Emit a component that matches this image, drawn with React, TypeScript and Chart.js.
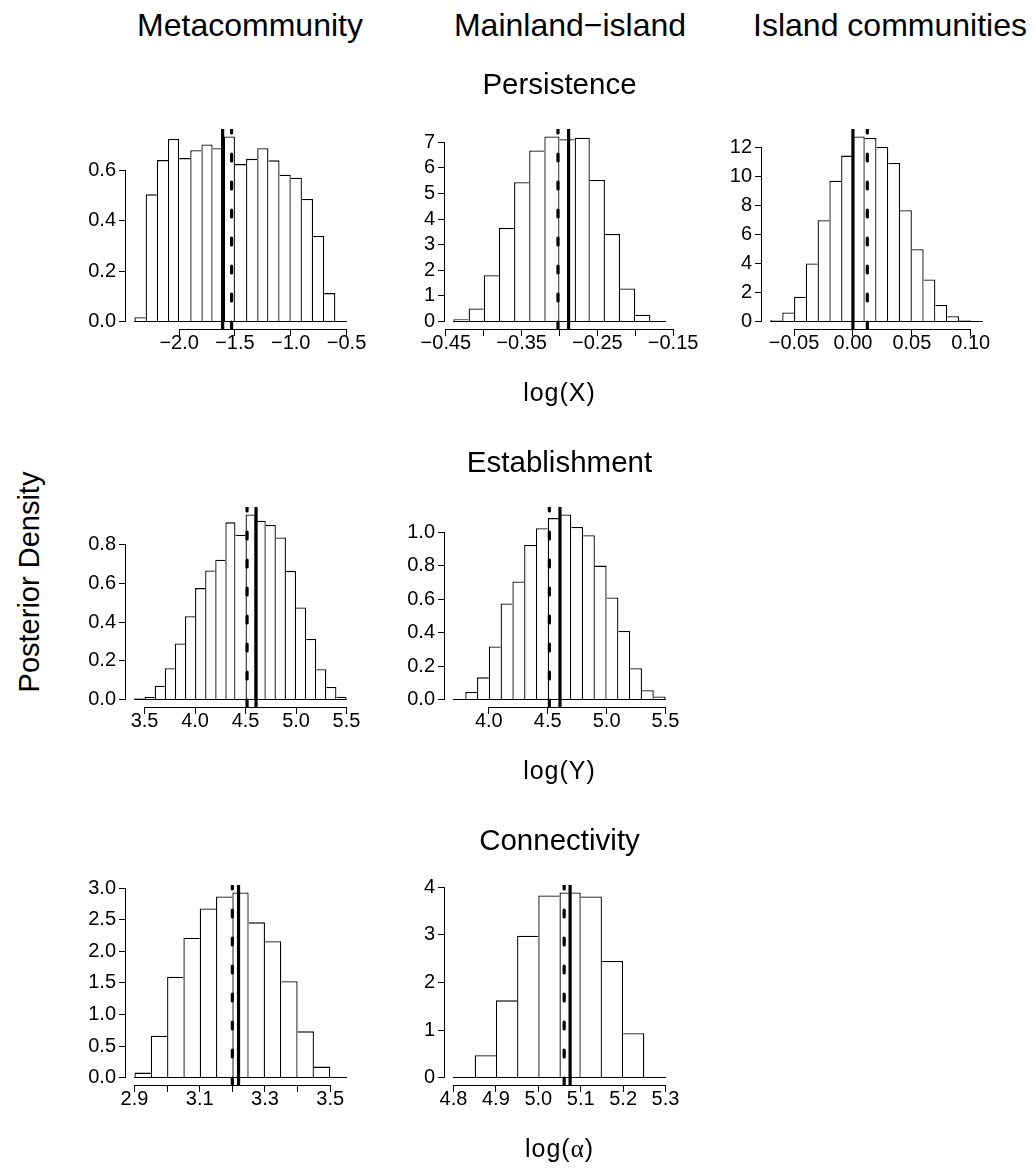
import React, { useEffect, useRef } from "react";
import { Chart, registerables } from "chart.js";

Chart.register(...registerables);

const FONT = "'Liberation Sans', Arial, Helvetica, sans-serif";

// ---------- Persistence ----------
const metaPersBreaks = [-2.4, -2.3, -2.2, -2.1, -2.0, -1.9, -1.8, -1.7, -1.6, -1.5, -1.4, -1.3, -1.2, -1.1, -1.0, -0.9, -0.8, -0.7, -0.6, -0.5];
const metaPersDensity = [0.017, 0.505, 0.641, 0.725, 0.649, 0.68, 0.703, 0.688, 0.735, 0.625, 0.646, 0.688, 0.64, 0.583, 0.571, 0.487, 0.34, 0.113, 0];
const metaPersSolid = -1.61;
const metaPersDashed = -1.53;
const metaPersXTicks = [-2.0, -1.5, -1.0, -0.5];
const metaPersXLabels = ["−2.0", "−1.5", "−1.0", "−0.5"];
const metaPersYTicks = [0, 0.2, 0.4, 0.6];
const metaPersYLabels = ["0.0", "0.2", "0.4", "0.6"];

const mainPersBreaks = [-0.44, -0.42, -0.4, -0.38, -0.36, -0.34, -0.32, -0.3, -0.28, -0.26, -0.24, -0.22, -0.2, -0.18, -0.16];
const mainPersDensity = [0.09, 0.51, 1.81, 3.66, 5.44, 6.68, 7.23, 7.12, 7.18, 5.53, 3.42, 1.29, 0.27, 0.02];
const mainPersSolid = -0.288;
const mainPersDashed = -0.302;
const mainPersXTicks = [-0.45, -0.4, -0.35, -0.3, -0.25, -0.2, -0.15];
const mainPersXLabels = ["−0.45", "", "−0.35", "", "−0.25", "", "−0.15"];
const mainPersYTicks = [0, 1, 2, 3, 4, 5, 6, 7];
const mainPersYLabels = ["0", "1", "2", "3", "4", "5", "6", "7"];

const islPersBreaks = [-0.07, -0.06, -0.05, -0.04, -0.03, -0.02, -0.01, 0.0, 0.01, 0.02, 0.03, 0.04, 0.05, 0.06, 0.07, 0.08, 0.09, 0.1, 0.11];
const islPersDensity = [0.11, 0.62, 1.71, 4.0, 6.97, 9.69, 11.41, 12.73, 12.62, 12.0, 10.9, 7.66, 4.98, 2.9, 1.14, 0.37, 0.09, 0];
const islPersSolid = 0.0;
const islPersDashed = 0.0122;
const islPersXTicks = [-0.05, 0.0, 0.05, 0.1];
const islPersXLabels = ["−0.05", "0.00", "0.05", "0.10"];
const islPersYTicks = [0, 2, 4, 6, 8, 10, 12];
const islPersYLabels = ["0", "2", "4", "6", "8", "10", "12"];

// ---------- Establishment ----------
const metaEstBreaks = [3.4, 3.5, 3.6, 3.7, 3.8, 3.9, 4.0, 4.1, 4.2, 4.3, 4.4, 4.5, 4.6, 4.7, 4.8, 4.9, 5.0, 5.1, 5.2, 5.3, 5.4, 5.5];
const metaEstDensity = [0.007, 0.014, 0.072, 0.162, 0.289, 0.43, 0.575, 0.666, 0.721, 0.914, 0.85, 0.955, 0.922, 0.901, 0.836, 0.664, 0.475, 0.313, 0.157, 0.065, 0.015];
const metaEstSolid = 4.604;
const metaEstDashed = 4.515;
const metaEstXTicks = [3.5, 4.0, 4.5, 5.0, 5.5];
const metaEstXLabels = ["3.5", "4.0", "4.5", "5.0", "5.5"];
const metaEstYTicks = [0, 0.2, 0.4, 0.6, 0.8];
const metaEstYLabels = ["0.0", "0.2", "0.4", "0.6", "0.8"];

const mainEstBreaks = [3.7, 3.8, 3.9, 4.0, 4.1, 4.2, 4.3, 4.4, 4.5, 4.6, 4.7, 4.8, 4.9, 5.0, 5.1, 5.2, 5.3, 5.4, 5.5];
const mainEstDensity = [0.004, 0.046, 0.133, 0.318, 0.575, 0.706, 0.924, 1.024, 1.085, 1.107, 1.032, 0.982, 0.801, 0.61, 0.41, 0.187, 0.056, 0.018];
const mainEstSolid = 4.604;
const mainEstDashed = 4.514;
const mainEstXTicks = [4.0, 4.5, 5.0, 5.5];
const mainEstXLabels = ["4.0", "4.5", "5.0", "5.5"];
const mainEstYTicks = [0, 0.2, 0.4, 0.6, 0.8, 1.0];
const mainEstYLabels = ["0.0", "0.2", "0.4", "0.6", "0.8", "1.0"];

// ---------- Connectivity ----------
const metaConBreaks = [2.9, 2.95, 3.0, 3.05, 3.1, 3.15, 3.2, 3.25, 3.3, 3.35, 3.4, 3.45, 3.5, 3.55];
const metaConDensity = [0.079, 0.663, 1.595, 2.216, 2.679, 2.868, 2.932, 2.458, 2.158, 1.526, 0.732, 0.174, 0];
const metaConSolid = 3.219;
const metaConDashed = 3.2;
const metaConXTicks = [2.9, 3.0, 3.1, 3.2, 3.3, 3.4, 3.5];
const metaConXLabels = ["2.9", "", "3.1", "", "3.3", "", "3.5"];
const metaConYTicks = [0, 0.5, 1.0, 1.5, 2.0, 2.5, 3.0];
const metaConYLabels = ["0.0", "0.5", "1.0", "1.5", "2.0", "2.5", "3.0"];

const mainConBreaks = [4.8, 4.85, 4.9, 4.95, 5.0, 5.05, 5.1, 5.15, 5.2, 5.25, 5.3];
const mainConDensity = [0.005, 0.469, 1.625, 2.984, 3.832, 3.895, 3.811, 2.452, 0.932, 0.02];
const mainConSolid = 5.075;
const mainConDashed = 5.061;
const mainConXTicks = [4.8, 4.9, 5.0, 5.1, 5.2, 5.3];
const mainConXLabels = ["4.8", "4.9", "5.0", "5.1", "5.2", "5.3"];
const mainConYTicks = [0, 1, 2, 3, 4];
const mainConYLabels = ["0", "1", "2", "3", "4"];

// ---------- text ----------
const columnTitles = ["Metacommunity", "Mainland−island", "Island communities"];
const rowTitles = ["Persistence", "Establishment", "Connectivity"];
const xAxisSymbols = ["X", "Y", "α"];
const yAxisTitle = "Posterior Density";

type Panel = {
  breaks: number[];
  density: number[];
  solid: number;
  dashed: number;
  xTicks: number[];
  xLabels: string[];
  yTicks: number[];
  yLabels: string[];
  col: number;
  row: number;
};

const panels: Panel[] = [
  { breaks: metaPersBreaks, density: metaPersDensity, solid: metaPersSolid, dashed: metaPersDashed, xTicks: metaPersXTicks, xLabels: metaPersXLabels, yTicks: metaPersYTicks, yLabels: metaPersYLabels, col: 0, row: 0 },
  { breaks: mainPersBreaks, density: mainPersDensity, solid: mainPersSolid, dashed: mainPersDashed, xTicks: mainPersXTicks, xLabels: mainPersXLabels, yTicks: mainPersYTicks, yLabels: mainPersYLabels, col: 1, row: 0 },
  { breaks: islPersBreaks, density: islPersDensity, solid: islPersSolid, dashed: islPersDashed, xTicks: islPersXTicks, xLabels: islPersXLabels, yTicks: islPersYTicks, yLabels: islPersYLabels, col: 2, row: 0 },
  { breaks: metaEstBreaks, density: metaEstDensity, solid: metaEstSolid, dashed: metaEstDashed, xTicks: metaEstXTicks, xLabels: metaEstXLabels, yTicks: metaEstYTicks, yLabels: metaEstYLabels, col: 0, row: 1 },
  { breaks: mainEstBreaks, density: mainEstDensity, solid: mainEstSolid, dashed: mainEstDashed, xTicks: mainEstXTicks, xLabels: mainEstXLabels, yTicks: mainEstYTicks, yLabels: mainEstYLabels, col: 1, row: 1 },
  { breaks: metaConBreaks, density: metaConDensity, solid: metaConSolid, dashed: metaConDashed, xTicks: metaConXTicks, xLabels: metaConXLabels, yTicks: metaConYTicks, yLabels: metaConYLabels, col: 0, row: 2 },
  { breaks: mainConBreaks, density: mainConDensity, solid: mainConSolid, dashed: mainConDashed, xTicks: mainConXTicks, xLabels: mainConXLabels, yTicks: mainConYTicks, yLabels: mainConYLabels, col: 1, row: 2 },
];

// layout (plot-region geometry)
const COL_LEFT = [126, 445, 762];
const ROW_TOP = [129, 507, 885];
const PLOT_W = 229;
const PLOT_H = 200;
const PAD_L = 70;
const PAD_R = 40;
const PAD_T = 20;
const PAD_B = 45;
const TICK_FONT = 20;

function Histogram({ p }: { p: Panel }) {
  const ref = useRef<HTMLCanvasElement>(null);
  useEffect(() => {
    const canvas = ref.current!;
    const n = p.density.length;
    const points = p.density.map((d, i) => ({ x: (p.breaks[i] + p.breaks[i + 1]) / 2, y: d }));
    const b0 = p.breaks[0];
    const bN = p.breaks[p.breaks.length - 1];
    const xr = bN - b0;
    const ymax = Math.max(...p.density);

    const rStyle = {
      id: "rStyle",
      afterDraw(chart: any) {
        const ctx = chart.ctx as CanvasRenderingContext2D;
        const xs = chart.scales.x;
        const ys = chart.scales.y;
        const ca = chart.chartArea;
        const al = (v: number) => Math.round(v - 0.5) + 0.5;
        ctx.save();
        ctx.strokeStyle = "#000";
        ctx.lineWidth = 1;
        ctx.lineCap = "butt";
        // histogram baseline (bottom edges of all bins, including empty ones)
        const y0 = al(ys.getPixelForValue(0));
        ctx.beginPath();
        ctx.moveTo(xs.getPixelForValue(b0) - 0.5, y0);
        ctx.lineTo(xs.getPixelForValue(bN) + 0.5, y0);
        ctx.stroke();
        // x axis line between first and last tick
        const yb = ca.bottom + 0.5;
        ctx.beginPath();
        ctx.moveTo(al(xs.getPixelForValue(p.xTicks[0])) - 0.5, yb);
        ctx.lineTo(al(xs.getPixelForValue(p.xTicks[p.xTicks.length - 1])) + 0.5, yb);
        ctx.stroke();
        // y axis line between first and last tick
        const xl = ca.left - 0.5;
        ctx.beginPath();
        ctx.moveTo(xl, al(ys.getPixelForValue(p.yTicks[0])) + 0.5);
        ctx.lineTo(xl, al(ys.getPixelForValue(p.yTicks[p.yTicks.length - 1])) - 0.5);
        ctx.stroke();
        // reference lines, clipped to plot region
        ctx.beginPath();
        ctx.rect(ca.left, ca.top, ca.right - ca.left, ca.bottom - ca.top);
        ctx.clip();
        ctx.lineWidth = 3.2;
        ctx.lineCap = "round";
        const xsol = xs.getPixelForValue(p.solid);
        ctx.setLineDash([]);
        ctx.beginPath();
        ctx.moveTo(xsol, ca.bottom + 2);
        ctx.lineTo(xsol, ca.top - 2);
        ctx.stroke();
        const xd = xs.getPixelForValue(p.dashed);
        ctx.setLineDash([7, 21]);
        ctx.beginPath();
        ctx.moveTo(xd, ca.bottom);
        ctx.lineTo(xd, ca.top - 30);
        ctx.stroke();
        ctx.restore();
      },
    };

    const chart = new Chart(canvas, {
      type: "bar",
      data: {
        datasets: [
          {
            data: points as any,
            backgroundColor: "#ffffff",
            borderColor: "#000000",
            borderSkipped: false,
            inflateAmount: 0,
            barPercentage: 1,
            categoryPercentage: 1,
            borderWidth: (c: any) => {
              const i = c.dataIndex;
              const h = p.density[i];
              const w = 1.3;
              const left = i === 0 || p.density[i - 1] < h ? w : 0;
              const right = i === n - 1 || p.density[i + 1] <= h ? w : 0;
              return { top: w, bottom: 0, left, right };
            },
          } as any,
        ],
      },
      options: {
        animation: false,
        responsive: false,
        maintainAspectRatio: false,
        devicePixelRatio: 1,
        events: [],
        layout: { padding: { top: PAD_T, right: PAD_R, left: 0, bottom: 0 } },
        plugins: {
          legend: { display: false },
          tooltip: { enabled: false },
          title: { display: false },
        },
        scales: {
          x: {
            type: "linear",
            min: b0 - 0.04 * xr,
            max: bN + 0.04 * xr,
            offset: false,
            afterBuildTicks: (s: any) => {
              s.ticks = p.xTicks.map((v) => ({ value: v }));
            },
            afterFit: (s: any) => {
              s.height = PAD_B;
            },
            grid: { display: true, drawOnChartArea: false, drawTicks: true, tickLength: 7, color: "#000", lineWidth: 1, offset: false },
            border: { display: false },
            ticks: {
              autoSkip: false,
              maxRotation: 0,
              minRotation: 0,
              padding: -3,
              color: "#000",
              font: { family: FONT, size: TICK_FONT, lineHeight: 1 },
              callback: (_v: any, i: number) => p.xLabels[i],
            },
          },
          y: {
            type: "linear",
            min: -0.04 * ymax,
            max: 1.04 * ymax,
            afterBuildTicks: (s: any) => {
              s.ticks = p.yTicks.map((v) => ({ value: v }));
            },
            afterFit: (s: any) => {
              s.width = PAD_L;
            },
            grid: { display: true, drawOnChartArea: false, drawTicks: true, tickLength: 7, color: "#000", lineWidth: 1 },
            border: { display: false },
            ticks: {
              autoSkip: false,
              padding: 3,
              color: "#000",
              font: { family: FONT, size: TICK_FONT, lineHeight: 1 },
              callback: (_v: any, i: number) => p.yLabels[i],
            },
          },
        } as any,
      },
      plugins: [rStyle],
    });
    return () => chart.destroy();
  }, [p]);

  const W = PAD_L + PLOT_W + PAD_R;
  const H = PAD_T + PLOT_H + PAD_B;
  return (
    <canvas
      ref={ref}
      width={W}
      height={H}
      style={{
        position: "absolute",
        left: COL_LEFT[p.col] - PAD_L,
        top: ROW_TOP[p.row] - PAD_T,
        width: W,
        height: H,
      }}
    />
  );
}

function Text({ children, cx, baseline, size, spacing }: { children: React.ReactNode; cx: number; baseline: number; size: number; spacing?: number }) {
  return (
    <div
      style={{
        position: "absolute",
        left: cx,
        top: baseline - 0.8465 * size,
        transform: "translateX(-50%)",
        fontFamily: FONT,
        fontSize: size,
        lineHeight: `${size}px`,
        letterSpacing: spacing ? `${spacing}px` : undefined,
        whiteSpace: "nowrap",
        color: "#000",
      }}
    >
      {children}
    </div>
  );
}

export default function App() {
  const colCenters = [250, 570, 890];
  const midCenter = COL_LEFT[1] + PLOT_W / 2;
  return (
    <div style={{ position: "absolute", left: 0, top: 0, width: 1034, height: 1168, background: "#fff", overflow: "hidden" }}>
      {panels.map((p, i) => (
        <Histogram key={i} p={p} />
      ))}
      {columnTitles.map((t, i) => (
        <Text key={"c" + i} cx={colCenters[i]} baseline={36} size={32}>
          {t}
        </Text>
      ))}
      {rowTitles.map((t, i) => (
        <Text key={"r" + i} cx={midCenter} baseline={94.3 + 378 * i} size={29.5}>
          {t}
        </Text>
      ))}
      {xAxisSymbols.map((s, i) => (
        <Text key={"x" + i} cx={midCenter} baseline={401 + 378 * i} size={25} spacing={1}>
          log(
          {s === "α" ? <span style={{ fontFamily: "'Liberation Serif', 'DejaVu Serif', serif" }}>{s}</span> : s})
        </Text>
      ))}
      <div
        style={{
          position: "absolute",
          left: 29,
          top: 582,
          transform: "translate(-50%, -50%) rotate(-90deg)",
          fontFamily: FONT,
          fontSize: 29,
          lineHeight: "29px",
          whiteSpace: "nowrap",
          color: "#000",
        }}
      >
        {yAxisTitle}
      </div>
    </div>
  );
}
